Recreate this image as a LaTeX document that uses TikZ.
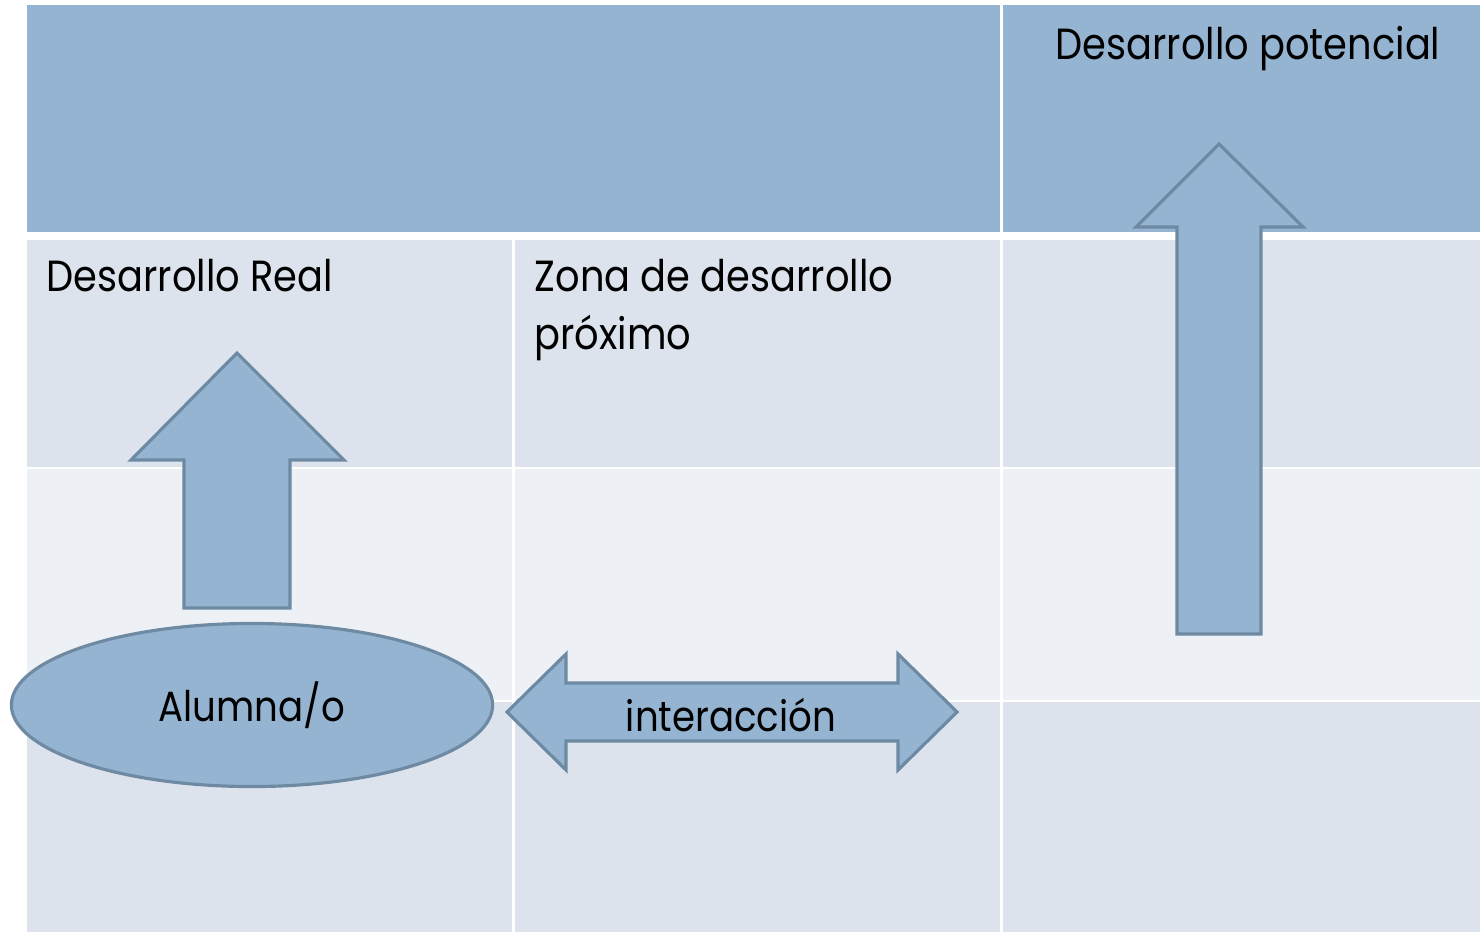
\documentclass[tikz,border=0pt]{standalone}
\usepackage{fontspec}
\setmainfont{Poppins}[FakeStretch=0.88]
\usetikzlibrary{positioning,shapes.geometric}
\definecolor{headblue}{RGB}{149,180,210}
\definecolor{rowdark}{RGB}{220,227,237}
\definecolor{rowlight}{RGB}{237,241,246}
\definecolor{shapeblue}{RGB}{149,180,210}
\definecolor{shapeedge}{RGB}{110,138,163}

\begin{document}
\begin{tikzpicture}[x=0.01cm,y=-0.01cm,
  shapestyle/.style={fill=shapeblue,draw=shapeedge,line width=0.9pt},
  celltext/.style={inner sep=0pt,anchor=base west,font=\fontsize{12.4}{14}\selectfont},
  shapetext/.style={inner sep=0pt,font=\fontsize{12}{14}\selectfont}]
  \fill[white] (0,0) rectangle (1480,934);
  % header row
  \fill[headblue] (27,5) rectangle (1000,232);
  \fill[headblue] (1003,5) rectangle (1480,232);
  % body rows
  \foreach \ya/\yb/\col in {240/467/rowdark, 469/700/rowlight, 702/932/rowdark}
    \foreach \xa/\xb in {27/512, 515/1000, 1003/1480}
      \fill[\col] (\xa,\ya) rectangle (\xb,\yb);
  % cell texts
  \node[celltext] (potencial) at (1055,60) {Desarrollo potencial};
  \node[celltext] (real) at (46,292) {Desarrollo Real};
  \node[celltext] (zona) at (534,292) {Zona de desarrollo};
  \node[celltext] (proximo) at (534,350) {próximo};
  % arrows
  \draw[shapestyle] (237,353) -- (344,460) -- (290,460) -- (290,608) -- (184,608) -- (184,460) -- (131,460) -- cycle;
  \draw[shapestyle] (1219,144) -- (1303,227) -- (1261,227) -- (1261,634) -- (1177,634) -- (1177,227) -- (1136,227) -- cycle;
  \draw[shapestyle] (507,712) -- (566,654) -- (566,683) -- (898,683) -- (898,654) -- (957,712) -- (898,770) -- (898,741) -- (566,741) -- (566,770) -- cycle;
  \node[shapetext] (interaccion) at (731,715) {interacción};
  % student
  \node[shapestyle,ellipse,minimum width=4.81cm,minimum height=1.63cm,shapetext] (alumno) at (252,705) {Alumna/o};
\end{tikzpicture}
\end{document}
